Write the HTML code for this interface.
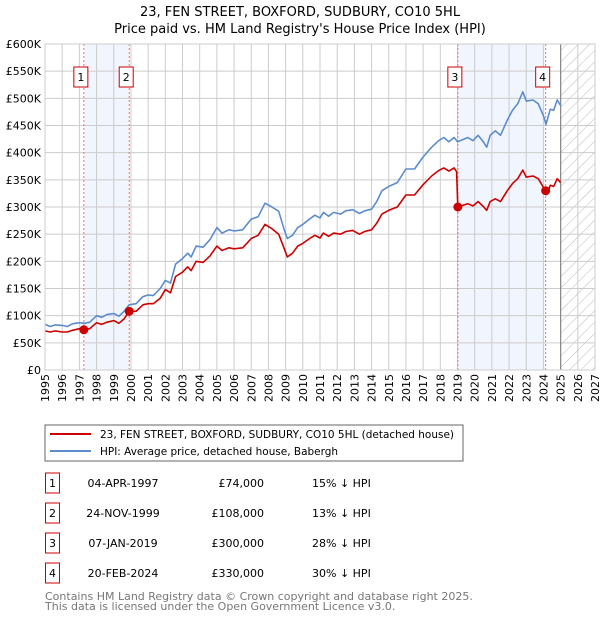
<!DOCTYPE html>
<html><head><meta charset="utf-8"><style>
body{margin:0;background:#fff;font-family:"DejaVu Sans","Liberation Sans",sans-serif;}
svg text{font-family:"DejaVu Sans","Liberation Sans",sans-serif;}
</style></head><body>
<svg id="chart" width="600" height="620" xmlns="http://www.w3.org/2000/svg">
<defs><pattern id="hatch" patternUnits="userSpaceOnUse" width="8" height="8" patternTransform="rotate(45)"><line x1="0" y1="0" x2="0" y2="8" stroke="#bbb" stroke-width="1"/></pattern></defs>
<text x="300" y="16" text-anchor="middle" font-size="13">23, FEN STREET, BOXFORD, SUDBURY, CO10 5HL</text>
<text x="300" y="33" text-anchor="middle" font-size="13">Price paid vs. HM Land Registry's House Price Index (HPI)</text>
<g id="plot"></g>
<g>
<rect x="45" y="425" width="418" height="36" fill="#fff" stroke="#666" stroke-width="1"/>
<line x1="50" y1="434" x2="91" y2="434" stroke="#cc0000" stroke-width="2"/>
<text x="100" y="438" font-size="10.6" textLength="354" lengthAdjust="spacingAndGlyphs">23, FEN STREET, BOXFORD, SUDBURY, CO10 5HL (detached house)</text>
<line x1="50" y1="451" x2="91" y2="451" stroke="#5b8ccc" stroke-width="2"/>
<text x="100" y="455" font-size="10.6" textLength="238" lengthAdjust="spacingAndGlyphs">HPI: Average price, detached house, Babergh</text>
</g>
<g id="table" font-size="11"></g>
<text x="45" y="600" font-size="11" fill="#777">Contains HM Land Registry data © Crown copyright and database right 2025.</text>
<text x="45" y="610" font-size="11" fill="#777">This data is licensed under the Open Government Licence v3.0.</text>
</svg>
<script>
const hpiYears=[1995.0,1995.3,1995.6,1996.0,1996.3,1996.6,1997.0,1997.3,1997.6,1998.0,1998.3,1998.6,1999.0,1999.3,1999.6,1999.9,2000.3,2000.7,2001.0,2001.3,2001.7,2002.0,2002.3,2002.6,2003.0,2003.3,2003.5,2003.8,2004.2,2004.6,2005.0,2005.3,2005.7,2006.0,2006.5,2007.0,2007.4,2007.8,2008.2,2008.6,2008.9,2009.1,2009.4,2009.7,2010.0,2010.4,2010.7,2011.0,2011.2,2011.5,2011.8,2012.2,2012.5,2012.9,2013.3,2013.6,2014.0,2014.3,2014.6,2015.0,2015.5,2016.0,2016.5,2017.0,2017.5,2017.9,2018.2,2018.5,2018.8,2019.0,2019.3,2019.6,2019.9,2020.2,2020.5,2020.7,2020.9,2021.2,2021.5,2021.9,2022.2,2022.5,2022.8,2023.0,2023.4,2023.7,2024.0,2024.15,2024.4,2024.6,2024.8,2025.0];
const hpiValues=[84,80,83,82,80,85,87,86,88,100,97,102,104,99,108,120,122,135,138,137,150,165,160,195,205,215,208,228,226,240,262,252,258,256,258,278,282,307,300,292,260,242,248,262,268,278,285,280,290,283,290,287,293,295,288,293,296,310,330,338,345,370,370,392,410,422,428,420,428,420,424,428,422,432,420,410,432,440,432,460,478,490,512,495,497,490,468,452,480,478,497,487];
const priceYears=[1995.0,1995.3,1995.6,1996.0,1996.3,1996.6,1997.0,1997.3,1997.6,1998.0,1998.3,1998.6,1999.0,1999.3,1999.6,1999.9,2000.3,2000.7,2001.0,2001.3,2001.7,2002.0,2002.3,2002.6,2003.0,2003.3,2003.5,2003.8,2004.2,2004.6,2005.0,2005.3,2005.7,2006.0,2006.5,2007.0,2007.4,2007.8,2008.2,2008.6,2008.9,2009.1,2009.4,2009.7,2010.0,2010.4,2010.7,2011.0,2011.2,2011.5,2011.8,2012.2,2012.5,2012.9,2013.3,2013.6,2014.0,2014.3,2014.6,2015.0,2015.5,2016.0,2016.5,2017.0,2017.5,2017.9,2018.2,2018.5,2018.8,2018.95,2019.02,2019.3,2019.6,2019.9,2020.2,2020.5,2020.7,2020.9,2021.2,2021.5,2021.9,2022.2,2022.5,2022.8,2023.0,2023.4,2023.7,2024.0,2024.13,2024.2,2024.4,2024.6,2024.8,2025.0];
const priceValues=[72,70,72,70,70,73,76,74,76,87,84,88,91,86,94,108,108,120,122,122,132,148,142,172,180,190,183,200,198,210,228,220,225,223,225,242,248,268,260,250,225,208,215,228,233,242,248,243,252,246,252,250,255,257,250,255,258,270,287,294,300,322,322,341,357,367,372,366,372,365,300,303,306,302,310,301,294,310,315,310,330,343,352,368,355,357,352,336,330,323,340,338,352,345];
const saleLabels=["1","2","3","4"];
const saleYears=[1997.26,1999.9,2019.02,2024.13];
const salePrices=[74,108,300,330];
const saleDates=["04-APR-1997","24-NOV-1999","07-JAN-2019","20-FEB-2024"];
const salePriceText=["£74,000","£108,000","£300,000","£330,000"];
const saleHpiText=["15% ↓ HPI","13% ↓ HPI","28% ↓ HPI","30% ↓ HPI"];
const yTicks=[0,50,100,150,200,250,300,350,400,450,500,550,600];
const yTickLabels=["£0","£50K","£100K","£150K","£200K","£250K","£300K","£350K","£400K","£450K","£500K","£550K","£600K"];
const xTicks=[1995,1996,1997,1998,1999,2000,2001,2002,2003,2004,2005,2006,2007,2008,2009,2010,2011,2012,2013,2014,2015,2016,2017,2018,2019,2020,2021,2022,2023,2024,2025,2026,2027];

const X0=45,X1=595,Y0=370,Y1=44;
const xs=y=>X0+(y-1995)/(2027-1995)*(X1-X0);
const ys=v=>Y0-v/600*(Y0-Y1);
const NS="http://www.w3.org/2000/svg";
const plot=document.getElementById('plot');
function mk(tag,attrs,parent){const e=document.createElementNS(NS,tag);for(const k in attrs)e.setAttribute(k,attrs[k]);(parent||plot).appendChild(e);return e;}

for(let i=0;i<4;i+=2){
 const r=mk('rect',{x:xs(saleYears[i]),y:Y1,width:xs(saleYears[i+1])-xs(saleYears[i]),height:Y0-Y1,fill:'#eef3fc',opacity:0.8});
 
 
}
const h=mk('rect',{x:xs(2025),y:Y1,width:X1-xs(2025),height:Y0-Y1,fill:'url(#hatch)'});


yTicks.forEach((t,i)=>{
 const l=mk('line',{x1:X0,x2:X1,y1:ys(t),y2:ys(t),stroke:'#ccc','stroke-width':1});
 
 
 const tx=mk('text',{x:X0-4,y:ys(t)+4,'text-anchor':'end','font-size':11});
 tx.textContent=yTickLabels[i];
 
 
});
xTicks.forEach(t=>{
 const l=mk('line',{x1:xs(t),x2:xs(t),y1:Y1,y2:Y0,stroke:'#ccc','stroke-width':1});
 
 
 const tx=mk('text',{x:0,y:0,'text-anchor':'end','font-size':11,transform:`translate(${xs(t)+4},${Y0+4}) rotate(-90)`});
 tx.textContent=t;
 
 
});
const bl=mk('line',{x1:xs(2025),x2:xs(2025),y1:Y1,y2:Y0,stroke:'#888','stroke-width':1.2});


saleYears.forEach((y,i)=>{
 const l=mk('line',{x1:xs(y),x2:xs(y),y1:Y1,y2:Y0,stroke:'#f07070','stroke-width':1,'stroke-dasharray':'2,2'});
 
 
 const r=mk('rect',{x:xs(y)-10,y:67,width:14,height:20,fill:'#fff',stroke:'#cc0000','stroke-width':1});
 
 
 const t=mk('text',{x:xs(y)-3,y:81,'text-anchor':'middle','font-size':11});
 t.textContent=saleLabels[i];
 
 
});
function path(yrs,vals,color,name){
 const d=yrs.map((y,i)=>(i?'L':'M')+xs(y).toFixed(1)+','+ys(vals[i]).toFixed(1)).join('');
 const p=mk('path',{d:d,fill:'none',stroke:color,'stroke-width':1.6,'stroke-linejoin':'round'});
 
 
}
path(hpiYears,hpiValues,'#5b8ccc','hpi-line');
path(priceYears,priceValues,'#cc0000','price-line');
saleYears.forEach((y,i)=>{
 const c=mk('circle',{cx:xs(y),cy:ys(salePrices[i]),r:4.5,fill:'#cc0000'});
 
 
});
const fr=mk('rect',{x:X0,y:Y1,width:X1-X0,height:Y0-Y1,fill:'none',stroke:'#ccc'});


const tb=document.getElementById('table');
saleLabels.forEach((lab,i)=>{
 const cy=483+i*30;
 const r=mk('rect',{x:45.5,y:cy-10,width:14,height:20,fill:'#fff',stroke:'#cc0000'},tb);
 
 
 const t=mk('text',{x:52.5,y:cy+4,'text-anchor':'middle'},tb);t.textContent=lab;
 
 
 const d=mk('text',{x:123,y:cy+4,'text-anchor':'middle'},tb);d.textContent=saleDates[i];
 
 
 const p=mk('text',{x:264,y:cy+4,'text-anchor':'end'},tb);p.textContent=salePriceText[i];
 
 
 const hh=mk('text',{x:312,y:cy+4},tb);hh.textContent=saleHpiText[i];
 
 
});
</script>
</body></html>
